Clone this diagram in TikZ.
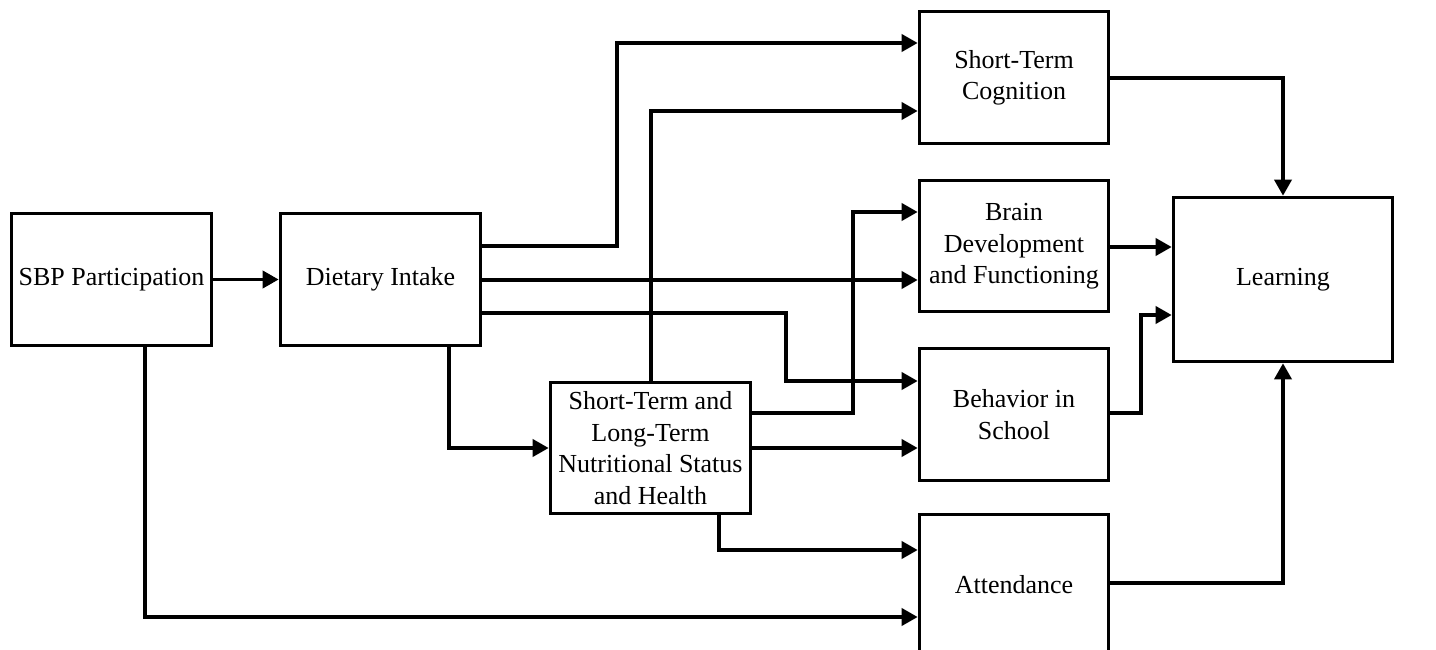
\documentclass[tikz,border=0pt]{standalone}
\usepackage{fontspec}
\setmainfont{Liberation Serif}
\usetikzlibrary{arrows.meta}
\begin{document}
\begin{tikzpicture}[x=1pt,y=-1pt,
  box/.style={draw,line width=3.6pt,rectangle,inner sep=0pt,align=center,
    font=\fontsize{26pt}{31.5pt}\selectfont},
  arr/.style={line width=3.6pt,-{Triangle[length=16pt,width=17pt]}}]
\useasboundingbox (0,0) rectangle (1436,650);
\node[box,minimum width=200pt,minimum height=132pt] (sbp) at (111.5,279.5) {SBP Participation};
\node[box,minimum width=200pt,minimum height=132pt] (diet) at (380.5,279.5) {Dietary Intake};
\node[box,minimum width=200pt,minimum height=131pt] (nut) at (650.5,448) {Short-Term and\\Long-Term\\Nutritional Status\\and Health};
\node[box,minimum width=189pt,minimum height=132pt] (cog) at (1014,77.5) {\raisebox{-3pt}{\begin{tabular}{@{}c@{}}Short-Term\\Cognition\end{tabular}}};
\node[box,minimum width=189pt,minimum height=131pt] (brain) at (1014,246) {\raisebox{-3pt}{\begin{tabular}{@{}c@{}}Brain\\Development\\and Functioning\end{tabular}}};
\node[box,minimum width=189pt,minimum height=132pt] (beh) at (1014,414.5) {Behavior in\\School};
\node[box,minimum width=189pt,minimum height=140pt] (att) at (1014,584.5) {\raisebox{1pt}{Attendance}};
\node[box,minimum width=219pt,minimum height=164pt] (learn) at (1283,279.5) {Learning};
% connectors
\draw[arr] (sbp.east) -- (diet.west);
\draw[arr] (sbp.south -| 145,0) |- (att.west |- 0,617);
\draw[arr] (diet.east |- 0,246) -| (617,43) -- (cog.west |- 0,43);
\draw[arr] (diet.east |- 0,280) -- (brain.west |- 0,280);
\draw[arr] (diet.east |- 0,313) -| (786,381) -- (beh.west |- 0,381);
\draw[arr] (diet.south -| 449,0) |- (nut.west);
\draw[arr] (nut.north -| 651,0) |- (cog.west |- 0,111);
\draw[arr] (nut.east |- 0,413) -| (853,212) -- (brain.west |- 0,212);
\draw[arr] (nut.east |- 0,448) -- (beh.west |- 0,448);
\draw[arr] (nut.south -| 719,0) |- (att.west |- 0,550);
\draw[arr] (cog.east |- 0,78) -| (learn.north);
\draw[arr] (brain.east |- 0,247) -- (learn.west |- 0,247);
\draw[arr] (beh.east |- 0,413) -| (1141,315) -- (learn.west |- 0,315);
\draw[arr] (att.east |- 0,583) -| (learn.south);
\end{tikzpicture}
\end{document}
